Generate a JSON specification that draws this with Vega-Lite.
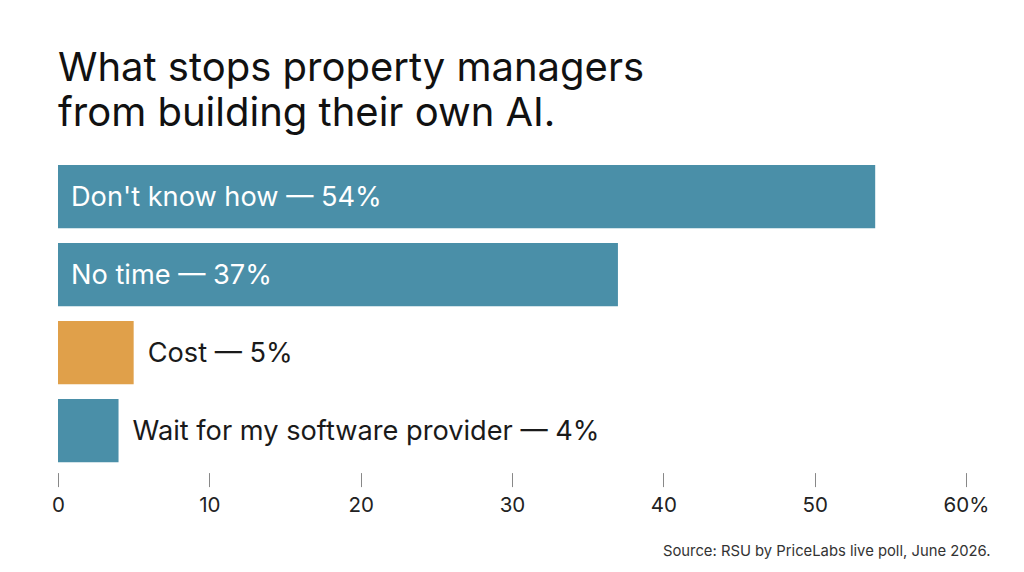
{
  "$schema": "https://vega.github.io/schema/vega-lite/v6.json",
  "width": 908,
  "height": 312,
  "autosize": {"type": "none"},
  "padding": {"left": 58, "top": 157.6, "right": 58, "bottom": 102.4},
  "background": "#ffffff",
  "config": {"view": {"stroke": null}, "font": "Inter"},
  "title": {
    "text": ["What stops property managers", "from building their own AI."],
    "anchor": "start",
    "frame": "group",
    "font": "Inter",
    "fontSize": 40,
    "fontWeight": 400,
    "lineHeight": 45,
    "color": "#111111",
    "offset": 24
  },
  "data": {
    "values": [
      {"reason": "Don't know how", "pct": 54, "label": "Don't know how — 54%", "group": "main"},
      {"reason": "No time", "pct": 37, "label": "No time — 37%", "group": "main"},
      {"reason": "Cost", "pct": 5, "label": "Cost — 5%", "group": "highlight"},
      {"reason": "Wait for my software provider", "pct": 4, "label": "Wait for my software provider — 4%", "group": "main"}
    ]
  },
  "encoding": {
    "y": {
      "field": "reason",
      "type": "nominal",
      "sort": null,
      "axis": null,
      "scale": {"paddingInner": 0.19, "paddingOuter": 0.095}
    }
  },
  "layer": [
    {
      "mark": {"type": "bar"},
      "encoding": {
        "x": {
          "field": "pct",
          "type": "quantitative",
          "scale": {"domain": [0, 60], "nice": false},
          "axis": {
            "values": [0, 10, 20, 30, 40, 50, 60],
            "grid": false,
            "domain": false,
            "ticks": true,
            "tickSize": 14,
            "tickColor": "#888888",
            "tickWidth": 1,
            "offset": 3,
            "labelFont": "Inter",
            "labelFontSize": 20.5,
            "labelColor": "#222222",
            "labelPadding": 9,
            "labelFlush": false,
            "labelExpr": "datum.value == 60 ? '60%' : datum.label",
            "title": "Source: RSU by PriceLabs live poll, June 2026.",
            "titleFont": "Inter",
            "titleFontSize": 14.8,
            "titleFontWeight": 400,
            "titleColor": "#333333",
            "titleAnchor": "end",
            "titleAlign": "right",
            "titleBaseline": "alphabetic",
            "titleX": 932,
            "titleY": 83
          }
        },
        "color": {
          "field": "group",
          "type": "nominal",
          "scale": {"domain": ["main", "highlight"], "range": ["#4a8fa8", "#e0a04a"]},
          "legend": null
        }
      }
    },
    {
      "transform": [{"filter": "datum.pct >= 20"}],
      "mark": {"type": "text", "align": "left", "baseline": "middle", "dx": 13, "dy": 1.5, "font": "Inter", "fontSize": 27.2, "color": "#ffffff"},
      "encoding": {
        "x": {"datum": 0, "type": "quantitative"},
        "text": {"field": "label"}
      }
    },
    {
      "transform": [{"filter": "datum.pct < 20"}],
      "mark": {"type": "text", "align": "left", "baseline": "middle", "dx": 14, "dy": 1.5, "font": "Inter", "fontSize": 27.2, "color": "#1a1a1a"},
      "encoding": {
        "x": {"field": "pct", "type": "quantitative"},
        "text": {"field": "label"}
      }
    }
  ]
}
